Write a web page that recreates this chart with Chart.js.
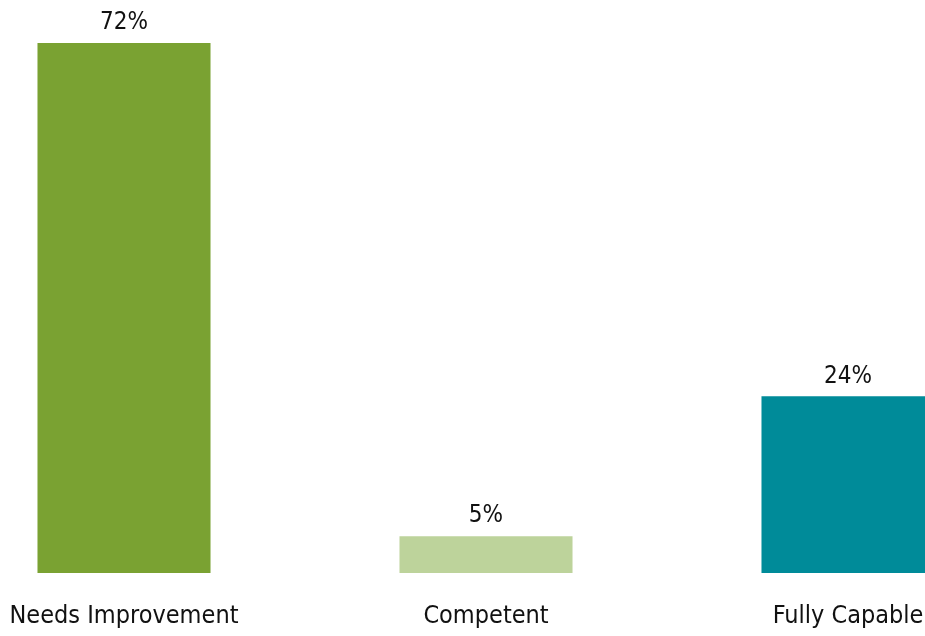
<!DOCTYPE html>
<html>
<head>
<meta charset="utf-8">
<script src="https://cdn.jsdelivr.net/npm/chart.js@4/dist/chart.umd.min.js"></script>
<style>
  html, body { margin: 0; padding: 0; background: #fff; overflow: hidden; }
  #wrap { position: relative; width: 1086px; height: 654px; margin-left: -57px; }
</style>
</head>
<body>
<div id="wrap"><canvas id="chart"></canvas></div>
<script>
// ------------------------------
// DATA
// ------------------------------
const categories = ["Needs Improvement", "Competent", "Fully Capable"];
const values     = [72, 5, 24];
const barColors  = ["#7AA232", "#BDD39B", "#008B99"];

const FONT = "'Liberation Sans Narrow', 'DejaVu Sans Condensed', sans-serif";

// value labels above each bar
const valueLabels = {
    id: "valueLabels",
    afterDatasetsDraw(chart) {
        const ctx = chart.ctx;
        const meta = chart.getDatasetMeta(0);
        ctx.save();
        ctx.font = "24px " + FONT;
        ctx.fillStyle = "#111";
        ctx.textAlign = "center";
        ctx.textBaseline = "bottom";
        meta.data.forEach((bar, i) => {
            ctx.fillText(values[i] + "%", bar.x, bar.y - 8);
        });
        ctx.restore();
    }
};

new Chart(document.getElementById("chart"), {
    type: "bar",
    data: {
        labels: categories,
        datasets: [{
            data: values,
            backgroundColor: barColors,
            categoryPercentage: 1,
            barPercentage: 0.478
        }]
    },
    options: {
        responsive: true,
        maintainAspectRatio: false,
        animation: false,
        layout: { padding: { top: 43, bottom: 3, left: 0, right: 0 } },
        plugins: { legend: { display: false }, tooltip: { enabled: false } },
        scales: {
            x: {
                grid: { display: false },
                border: { display: false },
                ticks: { color: "#111", padding: 20, font: { family: FONT, size: 25 } }
            },
            y: {
                display: false,
                min: 0,
                max: 72
            }
        }
    },
    plugins: [valueLabels]
});
</script>
</body>
</html>
